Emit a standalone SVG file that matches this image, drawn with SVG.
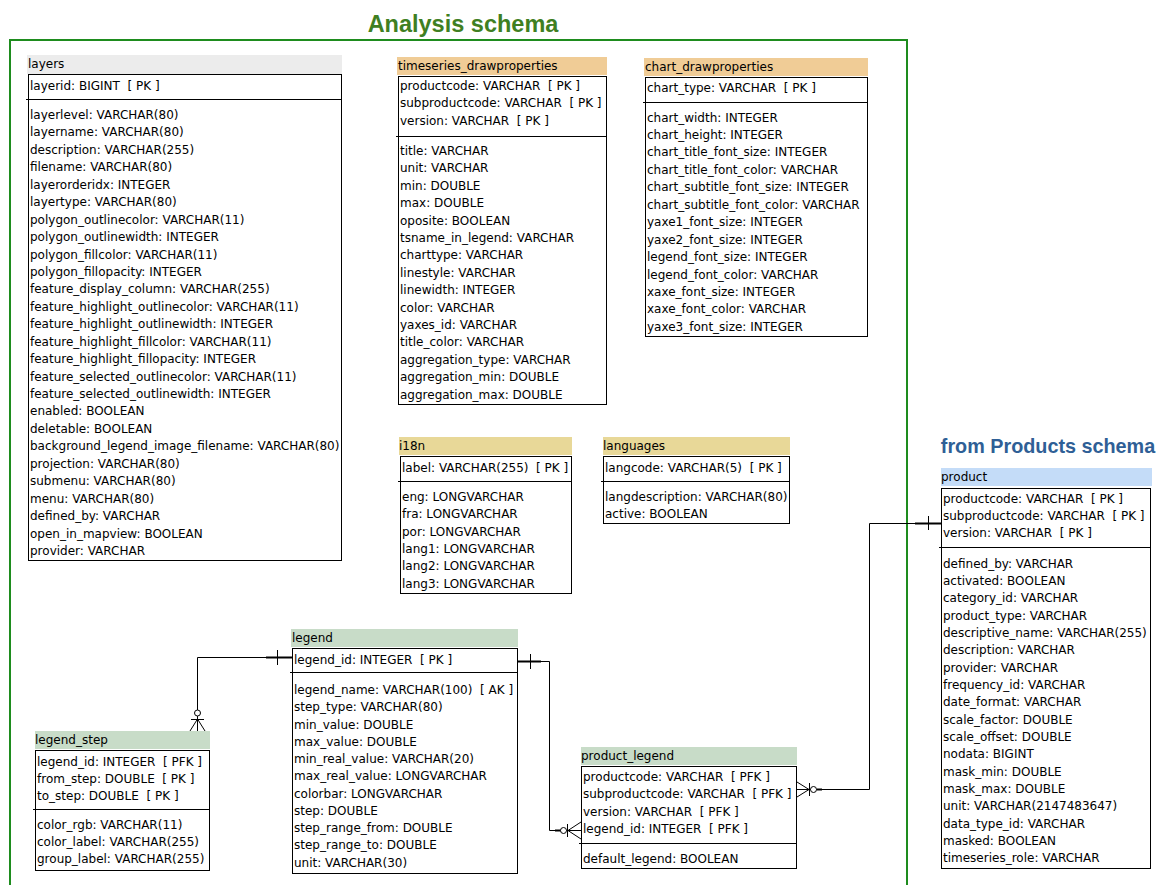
<svg xmlns="http://www.w3.org/2000/svg" width="1157" height="885" viewBox="0 0 1157 885">
<style>
.t{font-family:"DejaVu Sans",Tahoma,sans-serif;font-size:12px;fill:#000;white-space:pre}
.body{fill:#fff;stroke:#000;stroke-width:1}
.sep{stroke:#000;stroke-width:1}
.h-gray{fill:#ececec}
.h-tan{fill:#f0cc96}
.h-khaki{fill:#e8d898}
.h-blue{fill:#c4dcf8}
.h-green{fill:#c8dcc8}
.ln{fill:none;stroke:#000;stroke-width:1}
.bold{fill:none;stroke:#000;stroke-width:2}
.circ{fill:#fff;stroke:#000;stroke-width:1}
</style>
<rect width="1157" height="885" fill="#fff"/>
<g id="frame">
<path d="M10,885 V40 H907 V885" fill="none" stroke="#1e8c1e" stroke-width="2"/>
<text x="463" y="32" text-anchor="middle" font-family="Liberation Sans,Arial,sans-serif" font-size="23.5" font-weight="bold" fill="#3f7f22">Analysis schema</text>
<text x="1048" y="453" text-anchor="middle" font-family="Liberation Sans,Arial,sans-serif" font-size="19.8" font-weight="bold" fill="#2f5f96">from Products schema</text>
</g>

<g id="layers">
<rect class="h-gray" x="27" y="55" width="315" height="19"/>
<text class="t" x="28" y="68">layers</text>
<rect class="body" x="28.5" y="74.5" width="313" height="486"/>
<line class="sep" x1="26" y1="99.5" x2="342" y2="99.5"/>
<text class="t" x="30" y="90">layerid: BIGINT  [ PK ]</text>
<text class="t">
<tspan x="30" y="119">layerlevel: VARCHAR(80)</tspan>
<tspan x="30" dy="17.44">layername: VARCHAR(80)</tspan>
<tspan x="30" dy="17.44">description: VARCHAR(255)</tspan>
<tspan x="30" dy="17.44">filename: VARCHAR(80)</tspan>
<tspan x="30" dy="17.44">layerorderidx: INTEGER</tspan>
<tspan x="30" dy="17.44">layertype: VARCHAR(80)</tspan>
<tspan x="30" dy="17.44">polygon_outlinecolor: VARCHAR(11)</tspan>
<tspan x="30" dy="17.44">polygon_outlinewidth: INTEGER</tspan>
<tspan x="30" dy="17.44">polygon_fillcolor: VARCHAR(11)</tspan>
<tspan x="30" dy="17.44">polygon_fillopacity: INTEGER</tspan>
<tspan x="30" dy="17.44">feature_display_column: VARCHAR(255)</tspan>
<tspan x="30" dy="17.44">feature_highlight_outlinecolor: VARCHAR(11)</tspan>
<tspan x="30" dy="17.44">feature_highlight_outlinewidth: INTEGER</tspan>
<tspan x="30" dy="17.44">feature_highlight_fillcolor: VARCHAR(11)</tspan>
<tspan x="30" dy="17.44">feature_highlight_fillopacity: INTEGER</tspan>
<tspan x="30" dy="17.44">feature_selected_outlinecolor: VARCHAR(11)</tspan>
<tspan x="30" dy="17.44">feature_selected_outlinewidth: INTEGER</tspan>
<tspan x="30" dy="17.44">enabled: BOOLEAN</tspan>
<tspan x="30" dy="17.44">deletable: BOOLEAN</tspan>
<tspan x="30" dy="17.44">background_legend_image_filename: VARCHAR(80)</tspan>
<tspan x="30" dy="17.44">projection: VARCHAR(80)</tspan>
<tspan x="30" dy="17.44">submenu: VARCHAR(80)</tspan>
<tspan x="30" dy="17.44">menu: VARCHAR(80)</tspan>
<tspan x="30" dy="17.44">defined_by: VARCHAR</tspan>
<tspan x="30" dy="17.44">open_in_mapview: BOOLEAN</tspan>
<tspan x="30" dy="17.44">provider: VARCHAR</tspan>
</text>
</g>

<g id="timeseries_drawproperties">
<rect class="h-tan" x="397" y="57" width="210" height="18"/>
<text class="t" x="398" y="70">timeseries_drawproperties</text>
<rect class="body" x="398.5" y="76.5" width="208" height="328"/>
<line class="sep" x1="396" y1="136.5" x2="607" y2="136.5"/>
<text class="t">
<tspan x="400" y="90">productcode: VARCHAR  [ PK ]</tspan>
<tspan x="400" dy="17.35">subproductcode: VARCHAR  [ PK ]</tspan>
<tspan x="400" dy="17.35">version: VARCHAR  [ PK ]</tspan>
</text>
<text class="t">
<tspan x="400" y="155">title: VARCHAR</tspan>
<tspan x="400" dy="17.4">unit: VARCHAR</tspan>
<tspan x="400" dy="17.4">min: DOUBLE</tspan>
<tspan x="400" dy="17.4">max: DOUBLE</tspan>
<tspan x="400" dy="17.4">oposite: BOOLEAN</tspan>
<tspan x="400" dy="17.4">tsname_in_legend: VARCHAR</tspan>
<tspan x="400" dy="17.4">charttype: VARCHAR</tspan>
<tspan x="400" dy="17.4">linestyle: VARCHAR</tspan>
<tspan x="400" dy="17.4">linewidth: INTEGER</tspan>
<tspan x="400" dy="17.4">color: VARCHAR</tspan>
<tspan x="400" dy="17.4">yaxes_id: VARCHAR</tspan>
<tspan x="400" dy="17.4">title_color: VARCHAR</tspan>
<tspan x="400" dy="17.4">aggregation_type: VARCHAR</tspan>
<tspan x="400" dy="17.4">aggregation_min: DOUBLE</tspan>
<tspan x="400" dy="17.4">aggregation_max: DOUBLE</tspan>
</text>
</g>

<g id="chart_drawproperties">
<rect class="h-tan" x="644" y="58" width="224" height="18"/>
<text class="t" x="645" y="71">chart_drawproperties</text>
<rect class="body" x="645.5" y="77.5" width="222" height="259"/>
<line class="sep" x1="643" y1="102.5" x2="868" y2="102.5"/>
<text class="t" x="647" y="92">chart_type: VARCHAR  [ PK ]</text>
<text class="t">
<tspan x="647" y="121.5">chart_width: INTEGER</tspan>
<tspan x="647" dy="17.45">chart_height: INTEGER</tspan>
<tspan x="647" dy="17.45">chart_title_font_size: INTEGER</tspan>
<tspan x="647" dy="17.45">chart_title_font_color: VARCHAR</tspan>
<tspan x="647" dy="17.45">chart_subtitle_font_size: INTEGER</tspan>
<tspan x="647" dy="17.45">chart_subtitle_font_color: VARCHAR</tspan>
<tspan x="647" dy="17.45">yaxe1_font_size: INTEGER</tspan>
<tspan x="647" dy="17.45">yaxe2_font_size: INTEGER</tspan>
<tspan x="647" dy="17.45">legend_font_size: INTEGER</tspan>
<tspan x="647" dy="17.45">legend_font_color: VARCHAR</tspan>
<tspan x="647" dy="17.45">xaxe_font_size: INTEGER</tspan>
<tspan x="647" dy="17.45">xaxe_font_color: VARCHAR</tspan>
<tspan x="647" dy="17.45">yaxe3_font_size: INTEGER</tspan>
</text>
</g>

<g id="i18n">
<rect class="h-khaki" x="399" y="437" width="173" height="18"/>
<text class="t" x="399" y="450">i18n</text>
<rect class="body" x="400.5" y="456.5" width="171" height="137"/>
<line class="sep" x1="398" y1="481.5" x2="572" y2="481.5"/>
<text class="t" x="402" y="472">label: VARCHAR(255)  [ PK ]</text>
<text class="t">
<tspan x="402" y="501">eng: LONGVARCHAR</tspan>
<tspan x="402" dy="17.3">fra: LONGVARCHAR</tspan>
<tspan x="402" dy="17.3">por: LONGVARCHAR</tspan>
<tspan x="402" dy="17.3">lang1: LONGVARCHAR</tspan>
<tspan x="402" dy="17.3">lang2: LONGVARCHAR</tspan>
<tspan x="402" dy="17.3">lang3: LONGVARCHAR</tspan>
</text>
</g>

<g id="languages">
<rect class="h-khaki" x="603" y="437" width="187" height="18"/>
<text class="t" x="603" y="450">languages</text>
<rect class="body" x="603.5" y="456.5" width="186" height="67"/>
<line class="sep" x1="601" y1="481.5" x2="790" y2="481.5"/>
<text class="t" x="605" y="472">langcode: VARCHAR(5)  [ PK ]</text>
<text class="t">
<tspan x="605" y="501">langdescription: VARCHAR(80)</tspan>
<tspan x="605" dy="17.3">active: BOOLEAN</tspan>
</text>
</g>

<g id="product">
<rect class="h-blue" x="941" y="468" width="211" height="18"/>
<text class="t" x="941" y="481">product</text>
<rect class="body" x="941.5" y="488.5" width="209" height="380"/>
<line class="sep" x1="939" y1="547.5" x2="1151" y2="547.5"/>
<text class="t">
<tspan x="943" y="502.5">productcode: VARCHAR  [ PK ]</tspan>
<tspan x="943" dy="17.35">subproductcode: VARCHAR  [ PK ]</tspan>
<tspan x="943" dy="17.35">version: VARCHAR  [ PK ]</tspan>
</text>
<text class="t">
<tspan x="943" y="567.5">defined_by: VARCHAR</tspan>
<tspan x="943" dy="17.35">activated: BOOLEAN</tspan>
<tspan x="943" dy="17.35">category_id: VARCHAR</tspan>
<tspan x="943" dy="17.35">product_type: VARCHAR</tspan>
<tspan x="943" dy="17.35">descriptive_name: VARCHAR(255)</tspan>
<tspan x="943" dy="17.35">description: VARCHAR</tspan>
<tspan x="943" dy="17.35">provider: VARCHAR</tspan>
<tspan x="943" dy="17.35">frequency_id: VARCHAR</tspan>
<tspan x="943" dy="17.35">date_format: VARCHAR</tspan>
<tspan x="943" dy="17.35">scale_factor: DOUBLE</tspan>
<tspan x="943" dy="17.35">scale_offset: DOUBLE</tspan>
<tspan x="943" dy="17.35">nodata: BIGINT</tspan>
<tspan x="943" dy="17.35">mask_min: DOUBLE</tspan>
<tspan x="943" dy="17.35">mask_max: DOUBLE</tspan>
<tspan x="943" dy="17.35">unit: VARCHAR(2147483647)</tspan>
<tspan x="943" dy="17.35">data_type_id: VARCHAR</tspan>
<tspan x="943" dy="17.35">masked: BOOLEAN</tspan>
<tspan x="943" dy="17.35">timeseries_role: VARCHAR</tspan>
</text>
</g>

<g id="legend">
<rect class="h-green" x="291" y="629" width="227" height="18"/>
<text class="t" x="292" y="642">legend</text>
<rect class="body" x="292.5" y="648.5" width="225" height="225"/>
<line class="sep" x1="290" y1="672.5" x2="518" y2="672.5"/>
<text class="t" x="294" y="664">legend_id: INTEGER  [ PK ]</text>
<text class="t">
<tspan x="294" y="694">legend_name: VARCHAR(100)  [ AK ]</tspan>
<tspan x="294" dy="17.25">step_type: VARCHAR(80)</tspan>
<tspan x="294" dy="17.25">min_value: DOUBLE</tspan>
<tspan x="294" dy="17.25">max_value: DOUBLE</tspan>
<tspan x="294" dy="17.25">min_real_value: VARCHAR(20)</tspan>
<tspan x="294" dy="17.25">max_real_value: LONGVARCHAR</tspan>
<tspan x="294" dy="17.25">colorbar: LONGVARCHAR</tspan>
<tspan x="294" dy="17.25">step: DOUBLE</tspan>
<tspan x="294" dy="17.25">step_range_from: DOUBLE</tspan>
<tspan x="294" dy="17.25">step_range_to: DOUBLE</tspan>
<tspan x="294" dy="17.25">unit: VARCHAR(30)</tspan>
</text>
</g>

<g id="legend_step">
<rect class="h-green" x="35" y="731" width="175" height="18"/>
<text class="t" x="35" y="744">legend_step</text>
<rect class="body" x="35.5" y="750.5" width="174" height="120"/>
<line class="sep" x1="33" y1="809.5" x2="210" y2="809.5"/>
<text class="t">
<tspan x="37" y="766">legend_id: INTEGER  [ PFK ]</tspan>
<tspan x="37" dy="17.2">from_step: DOUBLE  [ PK ]</tspan>
<tspan x="37" dy="17.2">to_step: DOUBLE  [ PK ]</tspan>
</text>
<text class="t">
<tspan x="37" y="829">color_rgb: VARCHAR(11)</tspan>
<tspan x="37" dy="17.2">color_label: VARCHAR(255)</tspan>
<tspan x="37" dy="17.2">group_label: VARCHAR(255)</tspan>
</text>
</g>

<g id="product_legend">
<rect class="h-green" x="581" y="747" width="216" height="18"/>
<text class="t" x="581" y="760">product_legend</text>
<rect class="body" x="581.5" y="766.5" width="215" height="102"/>
<line class="sep" x1="579" y1="843.5" x2="797" y2="843.5"/>
<text class="t">
<tspan x="583" y="781">productcode: VARCHAR  [ PFK ]</tspan>
<tspan x="583" dy="17.35">subproductcode: VARCHAR  [ PFK ]</tspan>
<tspan x="583" dy="17.35">version: VARCHAR  [ PFK ]</tspan>
<tspan x="583" dy="17.35">legend_id: INTEGER  [ PFK ]</tspan>
</text>
<text class="t" x="583" y="863">default_legend: BOOLEAN</text>
</g>

<g id="connectors">
<path class="ln" d="M292,657.5 H197.5 V731"/>
<path class="bold" d="M266,657.5 H292"/>
<path class="ln" d="M277.5,650 V665"/>
<path class="ln" d="M191,719.5 H204"/>
<path class="ln" d="M197.5,719 L190,731 M197.5,719 V731 M197.5,719 L205,731"/>
<circle class="circ" cx="197.5" cy="713" r="3"/>

<path class="ln" d="M517,661.5 H549.5 V830.5 H581"/>
<path class="bold" d="M517,661.5 H541"/>
<path class="ln" d="M530.5,654 V669"/>
<path class="bold" d="M555,830.5 H566"/>
<path class="ln" d="M568,830.5 L581,822 M568,830.5 L581,830.5 M568,830.5 L581,839"/>
<path class="ln" d="M567.5,824 V837"/>
<circle class="circ" cx="563.5" cy="830.5" r="3"/>

<path class="ln" d="M797,789.5 H869.5 V523.5 H941"/>
<path class="bold" d="M915,523.5 H941"/>
<path class="ln" d="M928.5,516 V530"/>
<path class="ln" d="M809,789.5 L797,782 M809,789.5 L797,789.5 M809,789.5 L797,797"/>
<path class="ln" d="M809.5,783 V796"/>
<circle class="circ" cx="813.5" cy="789.5" r="3"/>
<path class="bold" d="M817,789.5 H822"/>
</g>
</svg>
